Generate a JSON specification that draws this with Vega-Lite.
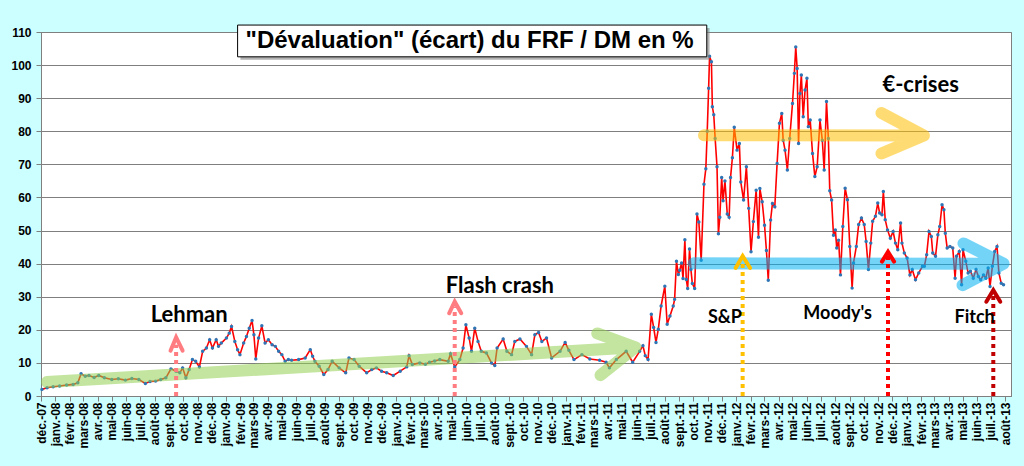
{
  "$schema": "https://vega.github.io/schema/vega-lite/v6.json",
  "autosize": {"type": "none"},
  "padding": {"left": 41, "top": 32, "right": 13, "bottom": 70},
  "width": 970,
  "height": 364,
  "background": "#CCFFFF",
  "datasets": {
    "series": [
      {"date":"2007-12-03","value":2.0},{"date":"2007-12-14","value":2.5},{"date":"2007-12-27","value":2.8},
      {"date":"2008-01-10","value":3.0},{"date":"2008-01-25","value":3.3},{"date":"2008-02-08","value":3.5},
      {"date":"2008-02-18","value":4.0},{"date":"2008-02-25","value":6.7},{"date":"2008-03-05","value":6.0},
      {"date":"2008-03-13","value":6.2},{"date":"2008-03-24","value":5.6},{"date":"2008-04-03","value":6.2},
      {"date":"2008-04-15","value":5.5},{"date":"2008-05-01","value":5.0},{"date":"2008-05-15","value":5.2},
      {"date":"2008-05-30","value":4.8},{"date":"2008-06-13","value":5.3},{"date":"2008-06-28","value":5.0},
      {"date":"2008-07-12","value":3.8},{"date":"2008-07-22","value":4.4},{"date":"2008-08-03","value":4.5},
      {"date":"2008-08-14","value":5.0},{"date":"2008-08-25","value":5.5},{"date":"2008-09-05","value":8.2},
      {"date":"2008-09-16","value":7.5},{"date":"2008-09-24","value":7.0},{"date":"2008-09-30","value":8.5},
      {"date":"2008-10-07","value":5.5},{"date":"2008-10-14","value":8.0},{"date":"2008-10-21","value":11.0},
      {"date":"2008-10-28","value":10.5},{"date":"2008-11-05","value":8.8},{"date":"2008-11-12","value":13.5},
      {"date":"2008-11-20","value":14.5},{"date":"2008-11-27","value":17.0},{"date":"2008-12-03","value":14.5},
      {"date":"2008-12-11","value":17.0},{"date":"2008-12-16","value":15.0},{"date":"2008-12-22","value":16.0},
      {"date":"2009-01-02","value":17.5},{"date":"2009-01-08","value":19.0},{"date":"2009-01-13","value":21.0},
      {"date":"2009-01-20","value":16.5},{"date":"2009-01-26","value":14.0},{"date":"2009-01-31","value":12.5},
      {"date":"2009-02-08","value":16.0},{"date":"2009-02-14","value":18.0},{"date":"2009-02-20","value":20.5},
      {"date":"2009-02-26","value":22.8},{"date":"2009-03-02","value":18.5},{"date":"2009-03-06","value":11.2},
      {"date":"2009-03-12","value":17.5},{"date":"2009-03-19","value":21.2},{"date":"2009-03-26","value":16.0},
      {"date":"2009-04-02","value":17.0},{"date":"2009-04-10","value":15.5},{"date":"2009-04-17","value":15.0},
      {"date":"2009-04-24","value":13.5},{"date":"2009-05-01","value":12.5},{"date":"2009-05-08","value":10.5},
      {"date":"2009-05-15","value":11.0},{"date":"2009-05-22","value":10.8},{"date":"2009-06-06","value":11.0},
      {"date":"2009-06-20","value":11.5},{"date":"2009-07-01","value":14.0},{"date":"2009-07-06","value":12.0},
      {"date":"2009-07-11","value":10.5},{"date":"2009-07-20","value":9.0},{"date":"2009-07-30","value":6.5},
      {"date":"2009-08-08","value":8.0},{"date":"2009-08-17","value":10.5},{"date":"2009-09-01","value":8.5},
      {"date":"2009-09-15","value":7.0},{"date":"2009-09-22","value":11.5},{"date":"2009-10-03","value":11.0},
      {"date":"2009-10-14","value":9.0},{"date":"2009-10-30","value":7.0},{"date":"2009-11-10","value":8.0},
      {"date":"2009-11-20","value":8.5},{"date":"2009-12-01","value":7.5},{"date":"2009-12-12","value":7.0},
      {"date":"2009-12-26","value":6.2},{"date":"2010-01-10","value":7.5},{"date":"2010-01-24","value":8.8},
      {"date":"2010-01-29","value":12.2},{"date":"2010-02-05","value":9.5},{"date":"2010-02-21","value":10.0},
      {"date":"2010-03-05","value":9.6},{"date":"2010-03-14","value":10.2},{"date":"2010-03-25","value":10.6},
      {"date":"2010-04-05","value":11.0},{"date":"2010-04-23","value":10.5},{"date":"2010-04-28","value":12.8},
      {"date":"2010-05-07","value":8.8},{"date":"2010-05-18","value":11.0},{"date":"2010-05-25","value":14.5},
      {"date":"2010-05-31","value":21.5},{"date":"2010-06-07","value":17.5},{"date":"2010-06-12","value":13.5},
      {"date":"2010-06-19","value":20.5},{"date":"2010-06-26","value":16.5},{"date":"2010-07-03","value":13.5},
      {"date":"2010-07-14","value":13.0},{"date":"2010-07-25","value":10.0},{"date":"2010-08-01","value":9.2},
      {"date":"2010-08-06","value":14.5},{"date":"2010-08-19","value":17.2},{"date":"2010-08-27","value":13.5},
      {"date":"2010-09-06","value":12.5},{"date":"2010-09-13","value":16.5},{"date":"2010-09-24","value":17.2},
      {"date":"2010-10-08","value":15.0},{"date":"2010-10-19","value":12.5},{"date":"2010-10-26","value":18.5},
      {"date":"2010-11-03","value":19.2},{"date":"2010-11-10","value":16.5},{"date":"2010-11-20","value":17.5},
      {"date":"2010-12-01","value":11.5},{"date":"2010-12-19","value":13.5},{"date":"2010-12-30","value":16.2},
      {"date":"2011-01-07","value":13.8},{"date":"2011-01-18","value":11.0},{"date":"2011-02-04","value":12.5},
      {"date":"2011-02-21","value":11.2},{"date":"2011-03-14","value":10.8},{"date":"2011-03-28","value":10.2},
      {"date":"2011-04-04","value":8.5},{"date":"2011-04-19","value":11.0},{"date":"2011-05-10","value":13.5},
      {"date":"2011-05-24","value":10.2},{"date":"2011-06-08","value":13.5},{"date":"2011-06-15","value":15.2},
      {"date":"2011-06-20","value":12.2},{"date":"2011-06-26","value":11.0},{"date":"2011-07-03","value":24.7},
      {"date":"2011-07-08","value":20.7},{"date":"2011-07-13","value":16.2},{"date":"2011-07-18","value":20.2},
      {"date":"2011-07-24","value":27.2},{"date":"2011-08-01","value":33.2},{"date":"2011-08-06","value":21.7},
      {"date":"2011-08-12","value":24.2},{"date":"2011-08-19","value":27.2},{"date":"2011-08-22","value":29.2},
      {"date":"2011-08-26","value":40.7},{"date":"2011-08-30","value":36.7},{"date":"2011-09-02","value":38.0},
      {"date":"2011-09-06","value":40.2},{"date":"2011-09-09","value":35.5},{"date":"2011-09-13","value":47.2},
      {"date":"2011-09-16","value":35.2},{"date":"2011-09-19","value":32.5},{"date":"2011-09-23","value":44.4},
      {"date":"2011-09-26","value":38.2},{"date":"2011-09-29","value":34.0},{"date":"2011-10-04","value":32.5},
      {"date":"2011-10-09","value":55.0},{"date":"2011-10-13","value":52.6},{"date":"2011-10-18","value":41.0},
      {"date":"2011-10-24","value":64.0},{"date":"2011-10-28","value":68.7},{"date":"2011-10-31","value":80.0},
      {"date":"2011-11-03","value":93.0},{"date":"2011-11-05","value":102.7},{"date":"2011-11-09","value":101.0},
      {"date":"2011-11-11","value":87.4},{"date":"2011-11-14","value":85.0},{"date":"2011-11-17","value":77.8},
      {"date":"2011-11-21","value":69.3},{"date":"2011-11-24","value":49.0},{"date":"2011-11-27","value":54.0},
      {"date":"2011-12-01","value":66.0},{"date":"2011-12-04","value":59.0},{"date":"2011-12-08","value":65.0},
      {"date":"2011-12-13","value":55.0},{"date":"2011-12-17","value":54.0},{"date":"2011-12-20","value":66.0},
      {"date":"2011-12-24","value":72.0},{"date":"2011-12-28","value":81.2},{"date":"2012-01-03","value":74.3},
      {"date":"2012-01-08","value":76.3},{"date":"2012-01-11","value":64.7},{"date":"2012-01-17","value":59.2},
      {"date":"2012-01-23","value":69.3},{"date":"2012-01-28","value":56.7},{"date":"2012-02-02","value":43.6},
      {"date":"2012-02-07","value":52.7},{"date":"2012-02-13","value":62.2},{"date":"2012-02-18","value":48.0},
      {"date":"2012-02-21","value":62.7},{"date":"2012-02-26","value":58.7},{"date":"2012-03-02","value":51.6},
      {"date":"2012-03-06","value":44.0},{"date":"2012-03-10","value":35.0},{"date":"2012-03-15","value":53.2},
      {"date":"2012-03-19","value":58.2},{"date":"2012-03-24","value":57.2},{"date":"2012-03-29","value":70.3},
      {"date":"2012-04-03","value":82.4},{"date":"2012-04-08","value":85.4},{"date":"2012-04-11","value":77.3},
      {"date":"2012-04-15","value":74.3},{"date":"2012-04-20","value":68.3},{"date":"2012-04-25","value":77.8},
      {"date":"2012-05-01","value":88.4},{"date":"2012-05-05","value":97.5},{"date":"2012-05-08","value":105.5},
      {"date":"2012-05-11","value":99.0},{"date":"2012-05-14","value":76.3},{"date":"2012-05-17","value":91.4},
      {"date":"2012-05-20","value":97.0},{"date":"2012-05-24","value":84.4},{"date":"2012-05-28","value":92.5},
      {"date":"2012-06-01","value":96.0},{"date":"2012-06-04","value":81.4},{"date":"2012-06-08","value":83.4},
      {"date":"2012-06-13","value":73.3},{"date":"2012-06-18","value":66.3},{"date":"2012-06-23","value":69.3},
      {"date":"2012-06-29","value":83.4},{"date":"2012-07-04","value":77.3},{"date":"2012-07-08","value":68.3},
      {"date":"2012-07-13","value":89.0},{"date":"2012-07-17","value":77.8},{"date":"2012-07-20","value":62.0},
      {"date":"2012-07-24","value":59.2},{"date":"2012-07-28","value":48.6},{"date":"2012-08-01","value":50.2},
      {"date":"2012-08-04","value":44.7},{"date":"2012-08-08","value":47.1},{"date":"2012-08-12","value":36.6},
      {"date":"2012-08-17","value":51.2},{"date":"2012-08-22","value":62.8},{"date":"2012-08-27","value":59.3},
      {"date":"2012-09-01","value":45.2},{"date":"2012-09-06","value":32.6},{"date":"2012-09-09","value":40.2},
      {"date":"2012-09-15","value":45.2},{"date":"2012-09-20","value":51.8},{"date":"2012-09-26","value":53.8},
      {"date":"2012-10-02","value":51.8},{"date":"2012-10-06","value":46.7},{"date":"2012-10-11","value":38.2},
      {"date":"2012-10-16","value":46.2},{"date":"2012-10-20","value":52.8},{"date":"2012-10-26","value":54.3},
      {"date":"2012-10-31","value":58.3},{"date":"2012-11-04","value":55.3},{"date":"2012-11-09","value":54.8},
      {"date":"2012-11-12","value":61.8},{"date":"2012-11-16","value":53.3},{"date":"2012-11-21","value":50.2},
      {"date":"2012-11-27","value":47.7},{"date":"2012-12-03","value":49.7},{"date":"2012-12-08","value":46.2},
      {"date":"2012-12-13","value":44.2},{"date":"2012-12-19","value":52.3},{"date":"2012-12-22","value":46.2},
      {"date":"2012-12-27","value":43.2},{"date":"2013-01-02","value":41.7},{"date":"2013-01-08","value":36.6},
      {"date":"2013-01-13","value":38.2},{"date":"2013-01-20","value":35.1},{"date":"2013-01-27","value":37.2},
      {"date":"2013-02-04","value":39.2},{"date":"2013-02-08","value":39.2},{"date":"2013-02-13","value":42.7},
      {"date":"2013-02-18","value":49.7},{"date":"2013-02-23","value":48.2},{"date":"2013-02-26","value":43.2},
      {"date":"2013-03-04","value":42.2},{"date":"2013-03-09","value":48.7},{"date":"2013-03-13","value":51.2},
      {"date":"2013-03-18","value":57.8},{"date":"2013-03-22","value":56.3},{"date":"2013-03-25","value":49.2},
      {"date":"2013-03-29","value":44.7},{"date":"2013-04-04","value":45.2},{"date":"2013-04-10","value":44.7},
      {"date":"2013-04-15","value":35.6},{"date":"2013-04-18","value":42.2},{"date":"2013-04-24","value":43.7},
      {"date":"2013-04-29","value":33.6},{"date":"2013-05-02","value":44.2},{"date":"2013-05-08","value":40.7},
      {"date":"2013-05-13","value":37.2},{"date":"2013-05-18","value":37.7},{"date":"2013-05-24","value":35.6},
      {"date":"2013-05-30","value":38.2},{"date":"2013-06-04","value":36.1},{"date":"2013-06-09","value":35.1},
      {"date":"2013-06-15","value":36.6},{"date":"2013-06-20","value":35.6},{"date":"2013-06-25","value":38.7},
      {"date":"2013-06-29","value":33.1},{"date":"2013-07-04","value":39.2},{"date":"2013-07-09","value":43.7},
      {"date":"2013-07-14","value":45.2},{"date":"2013-07-18","value":37.2},{"date":"2013-07-23","value":34.1},
      {"date":"2013-07-28","value":33.6}
    ],
    "arrows": [
      {"arrow":"tendance","order":1,"date":"2007-12-14","value":4.2},
      {"arrow":"tendance","order":2,"date":"2011-05-30","value":14.7},
      {"arrow":"tendance","order":3,"date":"2011-03-09","value":18.9},
      {"arrow":"tendance","order":4,"date":"2011-05-30","value":14.7},
      {"arrow":"tendance","order":5,"date":"2011-03-16","value":6.3},
      {"arrow":"crises","order":1,"date":"2011-10-24","value":78.8},
      {"arrow":"crises","order":2,"date":"2013-02-07","value":78.7},
      {"arrow":"crises","order":3,"date":"2012-11-08","value":85.5},
      {"arrow":"crises","order":4,"date":"2013-02-07","value":78.7},
      {"arrow":"crises","order":5,"date":"2012-11-08","value":73.3},
      {"arrow":"niveau","order":1,"date":"2011-10-02","value":40.1},
      {"arrow":"niveau","order":2,"date":"2013-07-28","value":40.0},
      {"arrow":"niveau","order":3,"date":"2013-05-03","value":46.1},
      {"arrow":"niveau","order":4,"date":"2013-07-28","value":40.0},
      {"arrow":"niveau","order":5,"date":"2013-05-01","value":33.5}
    ],
    "shafts": [
      {"event":"Lehman","date":"2008-09-16","value":0,"top":15.5},
      {"event":"Flash crash","date":"2010-05-07","value":0,"top":27},
      {"event":"S&P","date":"2012-01-15","value":0,"top":41},
      {"event":"Moody's","date":"2012-11-22","value":0,"top":42.5},
      {"event":"Fitch","date":"2013-07-06","value":0,"top":31}
    ],
    "heads": [
      {"event":"Lehman","order":1,"date":"2008-09-04","value":13.7},
      {"event":"Lehman","order":2,"date":"2008-09-16","value":17.7},
      {"event":"Lehman","order":3,"date":"2008-09-30","value":13.7},
      {"event":"Flash crash","order":1,"date":"2010-04-25","value":25.0},
      {"event":"Flash crash","order":2,"date":"2010-05-07","value":28.5},
      {"event":"Flash crash","order":3,"date":"2010-05-21","value":25.0},
      {"event":"S&P","order":1,"date":"2011-12-31","value":38.7},
      {"event":"S&P","order":2,"date":"2012-01-15","value":42.3},
      {"event":"S&P","order":3,"date":"2012-01-31","value":38.7},
      {"event":"Moody's","order":1,"date":"2012-11-09","value":40.6},
      {"event":"Moody's","order":2,"date":"2012-11-22","value":43.6},
      {"event":"Moody's","order":3,"date":"2012-12-05","value":40.6},
      {"event":"Fitch","order":1,"date":"2013-06-21","value":28.5},
      {"event":"Fitch","order":2,"date":"2013-07-06","value":32.0},
      {"event":"Fitch","order":3,"date":"2013-07-21","value":28.5}
    ],
    "labels": [
      {"label":"Lehman","kind":"big","date":"2008-10-14","value":22.3},
      {"label":"Flash crash","kind":"big","date":"2010-08-12","value":31.2},
      {"label":"€-crises","kind":"big","date":"2013-01-31","value":92.0},
      {"label":"S&P","kind":"small","date":"2011-12-08","value":22.0},
      {"label":"Moody's","kind":"small","date":"2012-08-06","value":23.2},
      {"label":"Fitch","kind":"small","date":"2013-05-27","value":22.0}
    ],
    "titlebox": [
      {"part":"shadow","date":"2009-02-01","date2":"2011-11-05","value":101.6,"value2":111.2},
      {"part":"box","date":"2009-01-26","date2":"2011-10-30","value":102.5,"value2":112.1}
    ],
    "title": [
      {"label":"\"Dévaluation\" (écart) du FRF / DM en %","date":"2010-06-08","value":105.1}
    ]
  },
  "encoding": {
    "x": {
      "field": "date", "type": "temporal",
      "scale": {"type": "utc", "domain": [{"year":2007,"month":12,"date":1,"utc":true},{"year":2013,"month":8,"date":13,"utc":true}]},
      "axis": {
        "tickCount": {"interval": "month", "step": 1},
        "labelExpr": "['janv.','févr.','mars','avr.','mai','juin','juil.','août','sept.','oct.','nov.','déc.'][utcmonth(datum.value)] + '-' + utcFormat(datum.value, '%y')",
        "labelAngle": 270, "labelOverlap": false, "labelFlush": false, "labelBound": false,
        "grid": false, "title": null, "tickSize": 5, "tickColor": "#7F7F7F", "domainColor": "#7F7F7F",
        "labelFont": "Liberation Sans", "labelFontWeight": "bold", "labelFontSize": 12, "labelColor": "#000000", "labelPadding": 1
      }
    },
    "y": {
      "field": "value", "type": "quantitative",
      "scale": {"domain": [0, 110], "nice": false, "zero": false},
      "axis": {
        "values": [0,10,20,30,40,50,60,70,80,90,100,110],
        "title": null, "grid": true, "gridColor": "#7F7F7F", "gridWidth": 1,
        "domainColor": "#7F7F7F", "tickColor": "#7F7F7F", "tickSize": 5,
        "labelFont": "Liberation Sans", "labelFontWeight": "bold", "labelFontSize": 12, "labelColor": "#000000", "labelPadding": 5
      }
    }
  },
  "layer": [
    {
      "data": {"name": "series"},
      "mark": {"type": "line", "color": "#FF0000", "strokeWidth": 1.6}
    },
    {
      "data": {"name": "series"},
      "mark": {"type": "point", "filled": true, "color": "#2E75B6", "size": 12, "opacity": 1}
    },
    {
      "data": {"name": "arrows"},
      "mark": {"type": "line", "strokeWidth": 12, "strokeCap": "round", "strokeJoin": "round", "opacity": 0.55},
      "encoding": {
        "color": {"field": "arrow", "type": "nominal", "legend": null,
          "scale": {"domain": ["tendance", "crises", "niveau"], "range": ["#92D050", "#FFC000", "#00B0F0"]}},
        "order": {"field": "order", "type": "quantitative"}
      }
    },
    {
      "data": {"name": "shafts"},
      "mark": {"type": "rule", "strokeWidth": 4, "strokeDash": [4, 4]},
      "encoding": {
        "y2": {"field": "top"},
        "color": {"field": "event", "type": "nominal", "legend": null,
          "scale": {"domain": ["Lehman", "Flash crash", "S&P", "Moody's", "Fitch"], "range": ["#FF7C80", "#FF7C80", "#FFC000", "#FF0000", "#C00000"]}}
      }
    },
    {
      "data": {"name": "heads"},
      "mark": {"type": "line", "strokeWidth": 4, "strokeCap": "round", "strokeJoin": "miter"},
      "encoding": {
        "color": {"field": "event", "type": "nominal", "legend": null,
          "scale": {"domain": ["Lehman", "Flash crash", "S&P", "Moody's", "Fitch"], "range": ["#FF7C80", "#FF7C80", "#FFC000", "#FF0000", "#C00000"]}},
        "order": {"field": "order", "type": "quantitative"}
      }
    },
    {
      "data": {"name": "labels"},
      "transform": [{"filter": "datum.kind === 'big'"}],
      "mark": {"type": "text", "font": "Lato", "fontWeight": "bold", "fontSize": 22, "color": "#000000", "align": "center", "baseline": "alphabetic"},
      "encoding": {"text": {"field": "label"}}
    },
    {
      "data": {"name": "labels"},
      "transform": [{"filter": "datum.kind === 'small'"}],
      "mark": {"type": "text", "font": "Lato", "fontWeight": "bold", "fontSize": 18, "color": "#000000", "align": "center", "baseline": "alphabetic"},
      "encoding": {"text": {"field": "label"}}
    },
    {
      "data": {"name": "titlebox"},
      "transform": [{"filter": "datum.part === 'shadow'"}],
      "mark": {"type": "rect", "color": "#808080", "opacity": 0.6},
      "encoding": {"x2": {"field": "date2"}, "y2": {"field": "value2"}}
    },
    {
      "data": {"name": "titlebox"},
      "transform": [{"filter": "datum.part === 'box'"}],
      "mark": {"type": "rect", "fill": "#FFFFFF", "stroke": "#000000", "strokeWidth": 1},
      "encoding": {"x2": {"field": "date2"}, "y2": {"field": "value2"}}
    },
    {
      "data": {"name": "title"},
      "mark": {"type": "text", "font": "Liberation Sans", "fontWeight": "bold", "fontSize": 24, "color": "#000000", "align": "center", "baseline": "alphabetic"},
      "encoding": {"text": {"field": "label"}}
    }
  ],
  "resolve": {"scale": {"color": "independent"}},
  "config": {
    "view": {"fill": "#FFFFFF", "stroke": "#7F7F7F", "strokeWidth": 1}
  }
}
